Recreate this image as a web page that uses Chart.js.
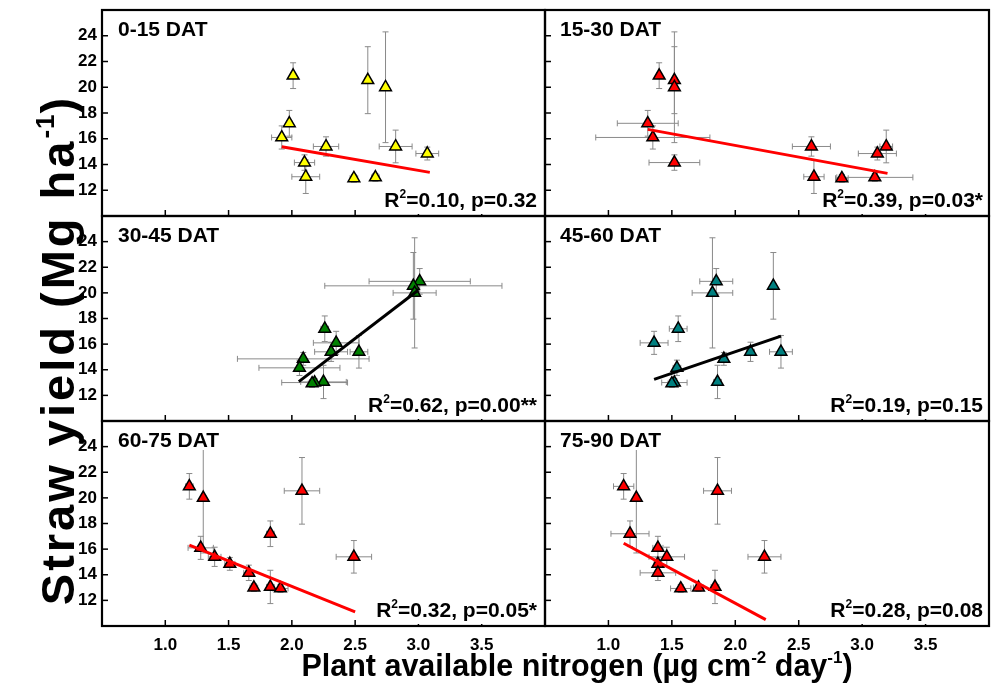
<!DOCTYPE html>
<html><head><meta charset="utf-8">
<script src="https://cdn.jsdelivr.net/npm/chart.js@4.4.1/dist/chart.umd.min.js"></script>
<style>
html,body{margin:0;padding:0;background:#fff;}
#wrap{position:relative;width:993px;height:693px;overflow:hidden;background:#fff;font-family:"Liberation Sans",Arial,Helvetica,sans-serif;}
#wrap canvas{position:absolute;}
.lbl{position:absolute;font-weight:bold;font-size:21px;line-height:21px;color:#000;background:#fff;white-space:nowrap;padding:0 2px;}
.stat{position:absolute;font-weight:bold;font-size:21px;line-height:21px;color:#000;background:#fff;white-space:nowrap;text-align:right;padding-left:3px;}
.sup{position:relative;top:-9px;font-size:12px;}
#ytitle{position:absolute;font-weight:bold;font-size:47px;line-height:50px;height:50px;width:700px;text-align:center;white-space:nowrap;letter-spacing:3px;transform:rotate(-90deg);}
#xtitle{position:absolute;font-weight:bold;font-size:30.5px;line-height:34px;width:800px;text-align:center;white-space:nowrap;}
#ytitle .s1{position:relative;top:-20px;font-size:26px;letter-spacing:1px;}
#xtitle .s2{position:relative;top:-13px;font-size:17px;}
</style>
</head><body>
<div id="wrap"></div>
<script>
// ---- data ----
const panelNames = ['0-15 DAT','15-30 DAT','30-45 DAT','45-60 DAT','60-75 DAT','75-90 DAT'];
const statR2 = ['0.10','0.39','0.62','0.19','0.32','0.28'];
const statP  = ['0.32','0.03*','0.00**','0.15','0.05*','0.08'];
const xTicks = [1.0,1.5,2.0,2.5,3.0,3.5];
const yTicks = [12,14,16,18,20,22,24];
const strawYield = [20.9,20.55,20.0,17.2,16.1,15.4,15.4,14.85,14.15,13.05,13.0,12.93];
const yieldErr   = [1.0,2.6,4.3,1.0,0.9,0.75,1.27,0.5,0.6,1.3,0.3,0.3];
const pan0_15   = [2.01,2.60,2.74,1.98,1.92,2.27,2.82,3.07,2.10,2.11,2.66,2.49];
const panErr0_15  = [0.02,0.02,0.02,0.02,0.08,0.10,0.13,0.09,0.08,0.11,0.03,0.03];
const pan15_30  = [1.40,1.52,1.52,1.31,1.35,2.60,3.19,3.12,1.52,2.62,3.10,2.84];
const panErr15_30 = [0.02,0.02,0.02,0.24,0.45,0.15,0.05,0.15,0.20,0.08,0.30,0.05];
const pan30_45  = [3.01,2.96,2.97,2.26,2.35,2.31,2.53,2.09,2.06,2.25,2.18,2.16];
const panErr30_45 = [0.40,0.70,0.17,0.03,0.18,0.13,0.07,0.52,0.32,0.18,0.26,0.03];
const pan45_60  = [1.85,2.30,1.82,1.55,1.36,2.12,2.36,1.91,1.54,1.86,1.52,1.50];
const panErr45_60 = [0.13,0.02,0.16,0.07,0.11,0.03,0.09,0.03,0.03,0.03,0.10,0.03];
const pan60_75  = [1.19,2.08,1.30,1.83,1.28,1.39,2.49,1.51,1.66,1.83,1.70,1.91];
const panErr60_75 = [0.03,0.14,0.02,0.03,0.10,0.05,0.14,0.04,0.04,0.03,0.03,0.06];
const pan75_90  = [1.12,1.86,1.22,1.17,1.39,1.46,2.23,1.39,1.39,1.84,1.71,1.57];
const panErr75_90 = [0.08,0.11,0.02,0.15,0.04,0.14,0.13,0.03,0.14,0.03,0.04,0.08];
const fitX = [[1.92,3.09],[1.31,3.20],[2.055,3.00],[1.36,2.36],[1.19,2.50],[1.12,2.24]];
const fitY = [[15.38,13.39],[16.73,13.31],[13.07,20.22],[13.25,16.63],[16.31,11.1],[16.46,10.5]];
const markerColors = ['#ffff00','#ff0000','#008000','#008080','#ff0000','#ff0000'];
const fitColors = ['#ff0000','#ff0000','#000000','#000000','#ff0000','#ff0000'];

const panX = [pan0_15,pan15_30,pan30_45,pan45_60,pan60_75,pan75_90];
const panErr = [panErr0_15,panErr15_30,panErr30_45,panErr45_60,panErr60_75,panErr75_90];

// ---- layout ----
const colL = [102,545], colR = [545,989];
const rowT = [10,216,421], rowB = [216,421,626];
const ML = 50, MB = 40, PT = 4, PR = 4;

const errorBars = {
  id:'errorBars',
  beforeDatasetsDraw(chart){
    const {ctx, chartArea:a, scales:{x,y}} = chart;
    const ds = chart.data.datasets[1];
    ctx.save();
    ctx.beginPath(); ctx.rect(a.left,a.top,a.right-a.left,a.bottom-a.top); ctx.clip();
    ctx.strokeStyle = '#8a8a8a'; ctx.lineWidth = 1;
    const c = 3;
    ds.data.forEach((p,i)=>{
      const px = x.getPixelForValue(p.x), py = y.getPixelForValue(p.y);
      const x0 = x.getPixelForValue(p.x - ds.xErr[i]), x1 = x.getPixelForValue(p.x + ds.xErr[i]);
      const y0 = y.getPixelForValue(p.y - ds.yErr[i]), y1 = y.getPixelForValue(p.y + ds.yErr[i]);
      ctx.beginPath();
      ctx.moveTo(x0,py); ctx.lineTo(x1,py);
      ctx.moveTo(x0,py-c); ctx.lineTo(x0,py+c);
      ctx.moveTo(x1,py-c); ctx.lineTo(x1,py+c);
      ctx.moveTo(px,y0); ctx.lineTo(px,y1);
      ctx.moveTo(px-c,y0); ctx.lineTo(px+c,y0);
      ctx.moveTo(px-c,y1); ctx.lineTo(px+c,y1);
      ctx.stroke();
    });
    ctx.restore();
  }
};
const frame = {
  id:'frame',
  afterDraw(chart){
    const {ctx, chartArea:a, scales:{x,y}} = chart;
    ctx.save();
    ctx.strokeStyle = '#000'; ctx.lineWidth = 1.5;
    xTicks.forEach(v=>{const px = x.getPixelForValue(v); ctx.beginPath(); ctx.moveTo(px,a.bottom); ctx.lineTo(px,a.bottom-6); ctx.stroke();});
    yTicks.forEach(v=>{const py = y.getPixelForValue(v); ctx.beginPath(); ctx.moveTo(a.left,py); ctx.lineTo(a.left+6,py); ctx.stroke();});
    ctx.lineWidth = 2.2;
    ctx.strokeRect(a.left,a.top,a.right-a.left,a.bottom-a.top);
    ctx.restore();
  }
};

const wrap = document.getElementById('wrap');
for (let k=0;k<6;k++){
  const r = Math.floor(k/2), c = k%2;
  const L = colL[c], R = colR[c], T = rowT[r], B = rowB[r];
  const cv = document.createElement('canvas');
  const w = (R-L)+ML+PR, h = (B-T)+PT+MB;
  cv.width = w; cv.height = h;
  cv.style.left = (L-ML)+'px'; cv.style.top = (T-PT)+'px';
  cv.style.width = w+'px'; cv.style.height = h+'px';
  wrap.appendChild(cv);
  const pts = panX[k].map((v,i)=>({x:v,y:strawYield[i]}));
  new Chart(cv,{
    type:'scatter',
    data:{datasets:[
      {type:'line',data:[{x:fitX[k][0],y:fitY[k][0]},{x:fitX[k][1],y:fitY[k][1]}],borderColor:fitColors[k],borderWidth:3,pointRadius:0,fill:false,order:0,clip:false},
      {data:pts,pointStyle:'triangle',pointRadius:6.8,backgroundColor:markerColors[k],borderColor:'#000',borderWidth:1.5,xErr:panErr[k],yErr:yieldErr,order:1}
    ]},
    options:{
      responsive:false,animation:false,events:[],
      layout:{autoPadding:false,padding:{top:PT,right:PR,left:0,bottom:0}},
      plugins:{legend:{display:false},tooltip:{enabled:false}},
      scales:{
        x:{type:'linear',min:0.5,max:4.0,
          afterBuildTicks:s=>{s.ticks=xTicks.map(v=>({value:v}));},
          afterFit:s=>{s.height=MB;s.paddingLeft=0;s.paddingRight=0;s.paddingTop=0;s.paddingBottom=0;},
          grid:{display:false,drawTicks:false},border:{display:false},
          ticks:{display:r===2,padding:9,color:'#000',font:{family:'"Liberation Sans", Arial, sans-serif',size:17,weight:'bold'},callback:v=>Number(v).toFixed(1)}},
        y:{type:'linear',min:10,max:26,
          afterBuildTicks:s=>{s.ticks=yTicks.map(v=>({value:v}));},
          afterFit:s=>{s.width=ML;s.paddingLeft=0;s.paddingRight=0;s.paddingTop=0;s.paddingBottom=0;},
          grid:{display:false,drawTicks:false},border:{display:false},
          ticks:{display:c===0,padding:5,color:'#000',font:{family:'"Liberation Sans", Arial, sans-serif',size:17,weight:'bold'},callback:v=>String(v)}}
      }
    },
    plugins:[errorBars,frame]
  });
  const lb = document.createElement('div');
  lb.className='lbl'; lb.textContent = panelNames[k];
  lb.style.left = (L + (c===0?16:15) - 2)+'px'; lb.style.top = (T+8)+'px';
  wrap.appendChild(lb);
  const st = document.createElement('div');
  st.className='stat';
  st.innerHTML = 'R<span class="sup">2</span>=' + statR2[k] + ', p=' + statP[k];
  st.style.right = (993 - (R - (c===0?8:6)))+'px';
  st.style.top = (B - 9 - 18)+'px';
  wrap.appendChild(st);
}
const yt = document.createElement('div');
yt.id='ytitle';
yt.innerHTML='Straw yield (Mg ha<span class="s1">-1</span>)';
yt.style.left = (58-350)+'px'; yt.style.top = (350-25)+'px';
wrap.appendChild(yt);
const xt = document.createElement('div');
xt.id='xtitle';
xt.innerHTML='Plant available nitrogen (µg cm<span class="s2">-2</span> day<span class="s2">-1</span>)';
xt.style.left = (577-400)+'px'; xt.style.top = '648px';
wrap.appendChild(xt);
</script>
</body></html>
